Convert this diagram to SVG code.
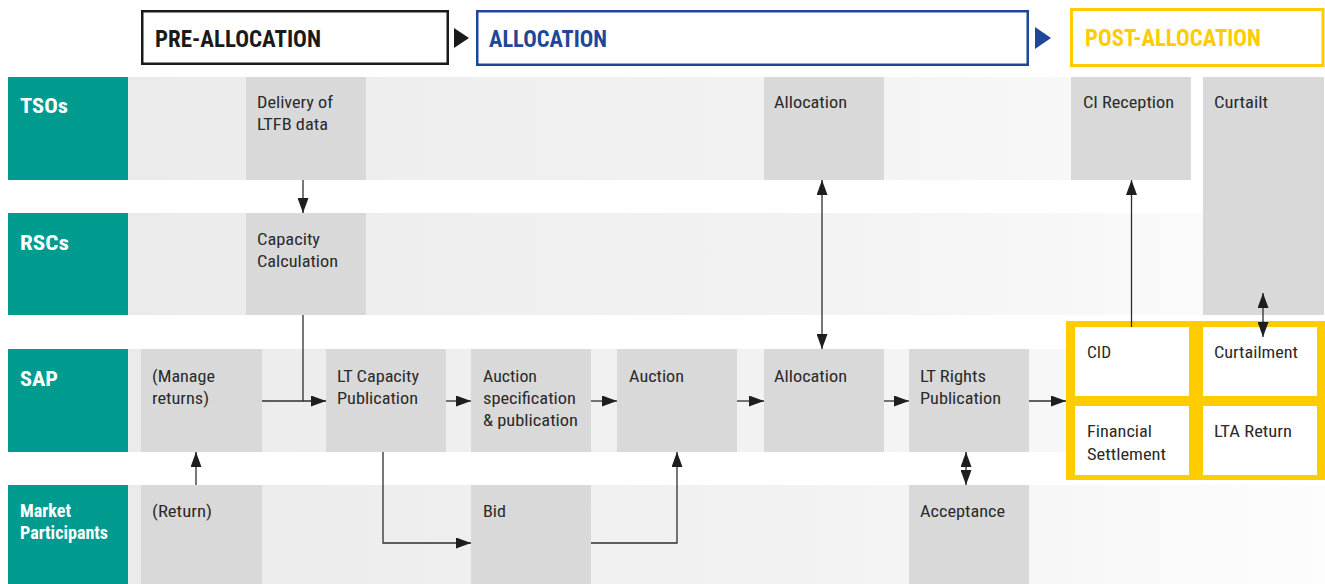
<svg xmlns="http://www.w3.org/2000/svg" width="1325" height="584" viewBox="0 0 1325 584">
<style>
text{font-family:"Roboto Condensed",Roboto,"Liberation Sans",sans-serif;}
.lane{fill:#009b8f;}
.lt{fill:#ffffff;font-weight:bold;font-size:20.5px;}
.lts{fill:#ffffff;font-weight:bold;font-size:18px;}
.node{fill:#d9d9d9;}
.cell{fill:#ffffff;}
.nt{fill:#2b2b2b;font-size:17px;}
.ph{font-weight:bold;font-size:23.5px;}
.con{fill:none;stroke:#2e2e2e;stroke-width:1.3;}
</style>
<defs>
<linearGradient id="band" gradientUnits="userSpaceOnUse" x1="128" y1="0" x2="1325" y2="0">
<stop offset="0" stop-color="#ebebeb"/>
<stop offset="0.6" stop-color="#f3f3f3"/>
<stop offset="1" stop-color="#fdfdfd"/>
</linearGradient>
<marker id="ah" markerUnits="userSpaceOnUse" markerWidth="15" markerHeight="11" refX="15" refY="5.5" orient="auto-start-reverse" viewBox="0 0 15 11">
<path d="M0,0 L15,5.5 L0,11 z" fill="#1e1e1e"/>
</marker>
</defs>
<rect width="1325" height="584" fill="#ffffff"/>

<g id="phases">
<g id="phase-pre">
<rect x="142.25" y="11.25" width="305.5" height="52.5" fill="#ffffff" stroke="#1a1a1a" stroke-width="2.5"/>
<text class="ph" x="155" y="47" fill="#1a1a1a" textLength="166" lengthAdjust="spacingAndGlyphs">PRE-ALLOCATION</text>
<path d="M454,28 L469,38 L454,48 z" fill="#1a1a1a"/>
</g>
<g id="phase-alloc">
<rect x="477.25" y="11.25" width="550.5" height="53.5" fill="#ffffff" stroke="#1e4699" stroke-width="2.5"/>
<text class="ph" x="489" y="47" fill="#1e4699" textLength="118" lengthAdjust="spacingAndGlyphs">ALLOCATION</text>
<path d="M1035,27 L1051,38 L1035,49 z" fill="#1e4699"/>
</g>
<g id="phase-post">
<rect x="1071.5" y="9.5" width="251.5" height="56" fill="#ffffff" stroke="#ffcc00" stroke-width="3"/>
<text class="ph" x="1085" y="46" fill="#ffcc00" textLength="176" lengthAdjust="spacingAndGlyphs">POST-ALLOCATION</text>
</g>
</g>

<g id="bands">
<rect x="128" y="77" width="943" height="103" fill="url(#band)"/>
<rect x="128" y="213" width="1075" height="102" fill="url(#band)"/>
<rect x="128" y="349" width="938" height="103" fill="url(#band)"/>
<rect x="128" y="485" width="1197" height="99" fill="url(#band)"/>
</g>

<g id="lane-tsos">
<rect class="lane" x="8" y="77" width="120" height="103"/>
<text class="lt" x="20" y="113" textLength="48" lengthAdjust="spacingAndGlyphs">TSOs</text>
</g>
<g id="lane-rscs">
<rect class="lane" x="8" y="213" width="120" height="102"/>
<text class="lt" x="20" y="250" textLength="49" lengthAdjust="spacingAndGlyphs">RSCs</text>
</g>
<g id="lane-sap">
<rect class="lane" x="8" y="349" width="120" height="103"/>
<text class="lt" x="20" y="386" textLength="38" lengthAdjust="spacingAndGlyphs">SAP</text>
</g>
<g id="lane-mp">
<rect class="lane" x="8" y="485" width="120" height="99"/>
<text class="lts" x="20" y="517" textLength="51" lengthAdjust="spacingAndGlyphs">Market</text>
<text class="lts" x="20" y="539" textLength="88" lengthAdjust="spacingAndGlyphs">Participants</text>
</g>

<g id="node-delivery">
<rect class="node" x="246" y="77" width="120" height="103"/>
<text class="nt" x="257" y="108" textLength="76" lengthAdjust="spacingAndGlyphs">Delivery of</text>
<text class="nt" x="257" y="130" textLength="71" lengthAdjust="spacingAndGlyphs">LTFB data</text>
</g>
<g id="node-tso-allocation">
<rect class="node" x="764" y="77" width="120" height="103"/>
<text class="nt" x="774" y="108" textLength="73" lengthAdjust="spacingAndGlyphs">Allocation</text>
</g>
<g id="node-ci-reception">
<rect class="node" x="1071" y="77" width="120" height="103"/>
<text class="nt" x="1083" y="108" textLength="91" lengthAdjust="spacingAndGlyphs">CI Reception</text>
</g>
<g id="node-curtailt">
<rect class="node" x="1203" y="77" width="121" height="238"/>
<text class="nt" x="1214" y="108" textLength="54" lengthAdjust="spacingAndGlyphs">Curtailt</text>
</g>
<g id="node-capacity-calc">
<rect class="node" x="246" y="213" width="120" height="102"/>
<text class="nt" x="257" y="245" textLength="63" lengthAdjust="spacingAndGlyphs">Capacity</text>
<text class="nt" x="257" y="267" textLength="81" lengthAdjust="spacingAndGlyphs">Calculation</text>
</g>
<g id="node-manage-returns">
<rect class="node" x="141" y="349" width="121" height="103"/>
<text class="nt" x="152" y="382" textLength="63" lengthAdjust="spacingAndGlyphs">(Manage</text>
<text class="nt" x="152" y="404" textLength="57" lengthAdjust="spacingAndGlyphs">returns)</text>
</g>
<g id="node-lt-capacity">
<rect class="node" x="326" y="349" width="120" height="103"/>
<text class="nt" x="337" y="382" textLength="82" lengthAdjust="spacingAndGlyphs">LT Capacity</text>
<text class="nt" x="337" y="404" textLength="81" lengthAdjust="spacingAndGlyphs">Publication</text>
</g>
<g id="node-auction-spec">
<rect class="node" x="471" y="349" width="120" height="103"/>
<text class="nt" x="483" y="382" textLength="54" lengthAdjust="spacingAndGlyphs">Auction</text>
<text class="nt" x="483" y="404" textLength="93" lengthAdjust="spacingAndGlyphs">specification</text>
<text class="nt" x="483" y="426" textLength="95" lengthAdjust="spacingAndGlyphs">&amp; publication</text>
</g>
<g id="node-auction">
<rect class="node" x="617" y="349" width="120" height="103"/>
<text class="nt" x="629" y="382" textLength="55" lengthAdjust="spacingAndGlyphs">Auction</text>
</g>
<g id="node-sap-allocation">
<rect class="node" x="764" y="349" width="120" height="103"/>
<text class="nt" x="774" y="382" textLength="73" lengthAdjust="spacingAndGlyphs">Allocation</text>
</g>
<g id="node-lt-rights">
<rect class="node" x="909" y="349" width="120" height="103"/>
<text class="nt" x="920" y="382" textLength="66" lengthAdjust="spacingAndGlyphs">LT Rights</text>
<text class="nt" x="920" y="404" textLength="81" lengthAdjust="spacingAndGlyphs">Publication</text>
</g>
<g id="node-post-group">
<rect x="1066" y="321" width="259" height="159" fill="#ffcc00"/>
<rect class="cell" x="1075" y="327" width="114" height="69"/>
<rect class="cell" x="1203" y="327" width="114" height="69"/>
<rect class="cell" x="1075" y="406" width="114" height="69"/>
<rect class="cell" x="1203" y="406" width="114" height="69"/>
<text class="nt" x="1087" y="358" textLength="24" lengthAdjust="spacingAndGlyphs">CID</text>
<text class="nt" x="1214" y="358" textLength="84" lengthAdjust="spacingAndGlyphs">Curtailment</text>
<text class="nt" x="1087" y="437" textLength="65" lengthAdjust="spacingAndGlyphs">Financial</text>
<text class="nt" x="1087" y="460" textLength="79" lengthAdjust="spacingAndGlyphs">Settlement</text>
<text class="nt" x="1214" y="437" textLength="78" lengthAdjust="spacingAndGlyphs">LTA Return</text>
</g>
<g id="node-return">
<rect class="node" x="141" y="485" width="121" height="99"/>
<text class="nt" x="152" y="517" textLength="60" lengthAdjust="spacingAndGlyphs">(Return)</text>
</g>
<g id="node-bid">
<rect class="node" x="471" y="485" width="120" height="99"/>
<text class="nt" x="483" y="517" textLength="23" lengthAdjust="spacingAndGlyphs">Bid</text>
</g>
<g id="node-acceptance">
<rect class="node" x="909" y="485" width="120" height="99"/>
<text class="nt" x="920" y="517" textLength="85" lengthAdjust="spacingAndGlyphs">Acceptance</text>
</g>

<g id="connectors">
<path class="con" d="M303,180 V213" marker-end="url(#ah)"/>
<path class="con" d="M303,315 V401 H326" marker-end="url(#ah)"/>
<path class="con" d="M262,401 H303"/>
<path class="con" d="M446,401 H471" marker-end="url(#ah)"/>
<path class="con" d="M591,401 H617" marker-end="url(#ah)"/>
<path class="con" d="M737,401 H764" marker-end="url(#ah)"/>
<path class="con" d="M884,401 H909" marker-end="url(#ah)"/>
<path class="con" d="M1029,401 H1066" marker-end="url(#ah)"/>
<path class="con" d="M822,180 V349" marker-start="url(#ah)" marker-end="url(#ah)"/>
<path class="con" d="M1131.5,327 V180" marker-end="url(#ah)"/>
<path class="con" d="M1263,293 V337" marker-start="url(#ah)" marker-end="url(#ah)"/>
<path class="con" d="M196,485 V452" marker-end="url(#ah)"/>
<path class="con" d="M383,452 V543 H471" marker-end="url(#ah)"/>
<path class="con" d="M591,543 H677 V452" marker-end="url(#ah)"/>
<path class="con" d="M966,452 V485" marker-start="url(#ah)" marker-end="url(#ah)"/>
</g>
</svg>
